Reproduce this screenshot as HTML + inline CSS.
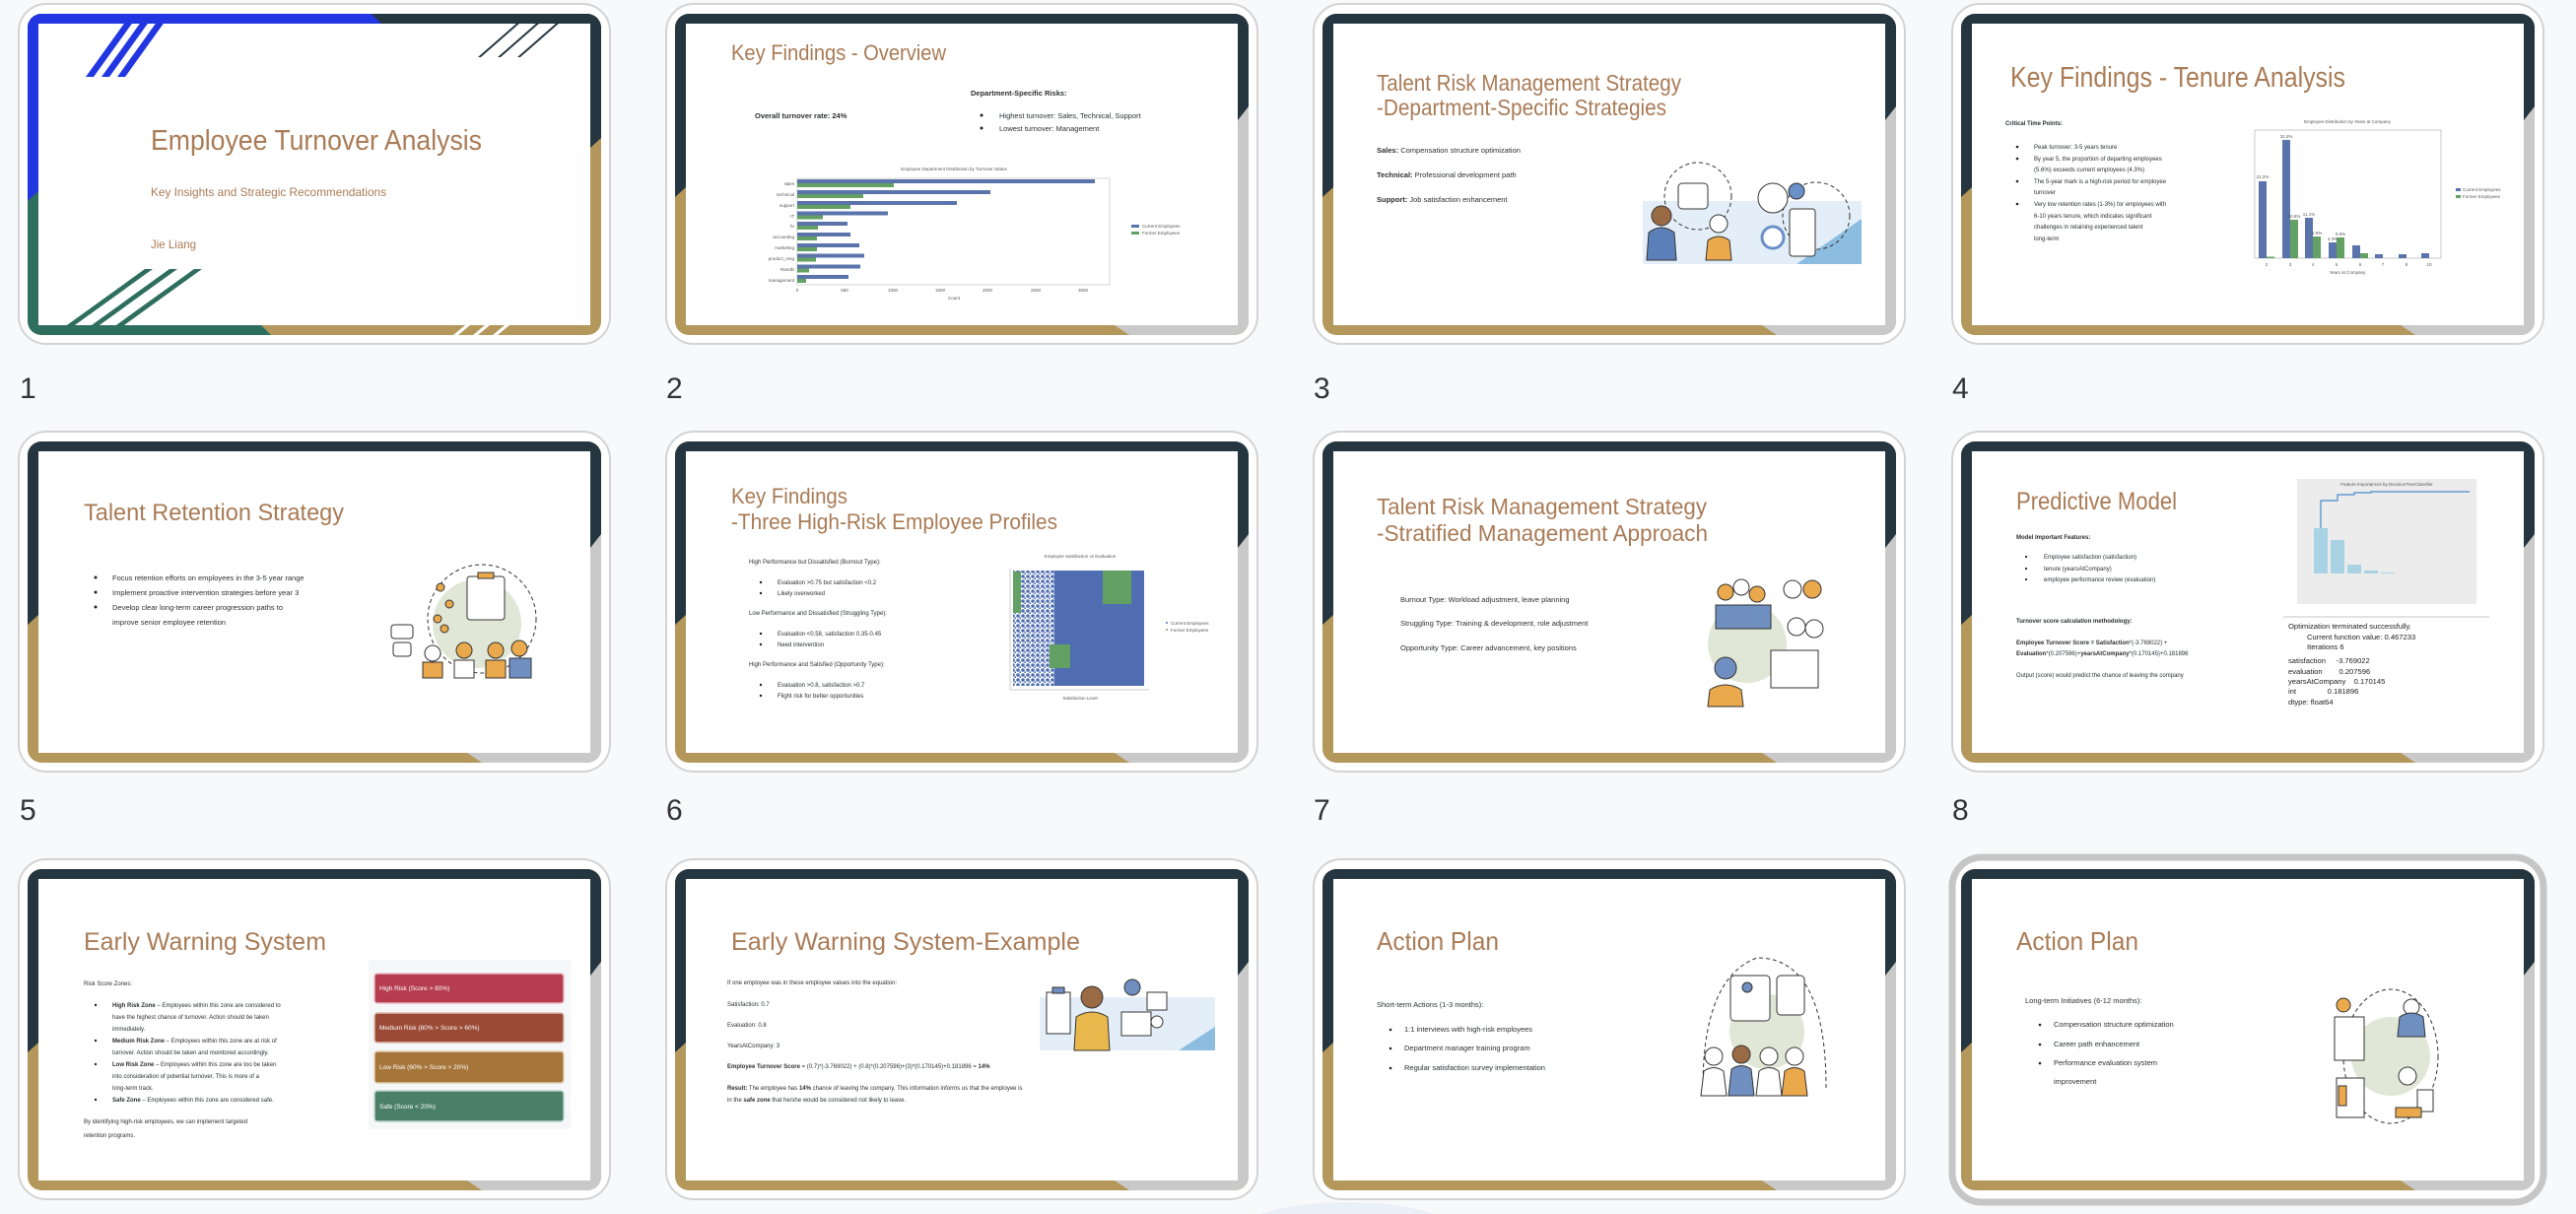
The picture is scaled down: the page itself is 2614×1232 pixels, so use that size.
<!DOCTYPE html>
<html><head><meta charset="utf-8"><style>
html,body{margin:0;padding:0;background:#f8f9fb;}
svg{display:block;}
text{font-family:"Liberation Sans",sans-serif;}
.t{fill:#a97b56;font-weight:300;}
.b{fill:#2b2f33;font-size:7.5px;}
.s{fill:#2b2f33;font-size:6px;}
.m{font-family:"Liberation Mono",monospace;fill:#222;font-size:7.6px;}
.n{fill:#333;font-size:30px;}
.ax{fill:#555;font-size:4.5px;}
</style></head><body>
<svg width="2614" height="1232" viewBox="0 0 2614 1232" xmlns="http://www.w3.org/2000/svg">
<defs>
<clipPath id="fc"><rect x="9" y="10" width="582" height="326" rx="14"/></clipPath>
<g id="frame">
 <rect x="0" y="0" width="600" height="345" rx="28" fill="#fff" stroke="#d3d3d3" stroke-width="2"/>
 <g clip-path="url(#fc)">
  <rect x="9" y="10" width="582" height="326" fill="#b4975a"/>
  <polygon points="580,118 591,104 591,336 470,336 455,326 580,326" fill="#c9c9c9"/>
  <polygon points="9,10 591,10 591,104 580,118 580,20 20,20 20,186 9,196" fill="#253640"/>
 </g>
 <rect x="20" y="20" width="560" height="306" fill="#fff"/>
</g>
<pattern id="dots" width="5" height="5" patternUnits="userSpaceOnUse"><rect width="5" height="5" fill="#fff"/><circle cx="2" cy="2" r="1.8" fill="#4f6db0"/><circle cx="4.5" cy="4.5" r="1.2" fill="#4f6db0"/></pattern>
</defs>
<ellipse cx="1367" cy="1250" rx="110" ry="30" fill="#eaf0f8"/>

<!-- Slide 1 -->
<g transform="translate(19,4)">
 <rect x="0" y="0" width="600" height="345" rx="28" fill="#fff" stroke="#d3d3d3" stroke-width="2"/>
 <g clip-path="url(#fc)">
  <rect x="9" y="10" width="582" height="326" fill="#b4975a"/>
  <polygon points="9,10 591,10 591,136 580,146 580,20 20,20 20,190 9,200" fill="#253640"/>
  <polygon points="9,10 358,10 368,20 20,20 20,190 9,200" fill="#2136e0"/>
  <polygon points="9,200 20,190 20,326 246,326 256,336 9,336" fill="#2e6e5e"/>
 </g>
 <rect x="20" y="20" width="560" height="306" fill="#fff"/>
 <g fill="#2136e0"><polygon points="68,74 76,74 122,10 114,10"/><polygon points="84,74 92,74 138,10 130,10"/><polygon points="100,74 108,74 154,10 146,10"/></g>
 <g fill="#253640"><polygon points="466,54 469,54 517,12 514,12"/><polygon points="486,54 489,54 537,12 534,12"/><polygon points="506,54 509,54 557,12 554,12"/></g>
 <g fill="#2e6e5e"><polygon points="35,336 43,336 136,269 128,269"/><polygon points="60,336 68,336 161,269 153,269"/><polygon points="85,336 93,336 186,269 178,269"/></g>
 <g fill="#fff"><polygon points="441,336 446,336 458,326 453,326"/><polygon points="461,336 466,336 478,326 473,326"/><polygon points="481,336 486,336 498,326 493,326"/></g>
 <text class="t" x="134" y="148" font-size="29" textLength="336" lengthAdjust="spacingAndGlyphs">Employee Turnover Analysis</text>
 <text class="t" x="134" y="195" font-size="12" textLength="239" lengthAdjust="spacingAndGlyphs">Key Insights and Strategic Recommendations</text>
 <text class="t" x="134" y="248" font-size="12" textLength="46" lengthAdjust="spacingAndGlyphs">Jie Liang</text>
</g>
<text class="n" x="20" y="404">1</text>

<!-- Slide 2 -->
<g transform="translate(676,4)">
 <use href="#frame"/>
 <text class="t" x="66" y="57" font-size="22" textLength="218" lengthAdjust="spacingAndGlyphs">Key Findings - Overview</text>
 <text class="b" x="309" y="93" font-size="6.5" font-weight="bold">Department-Specific Risks:</text>
 <text class="b" x="90" y="116" font-weight="bold">Overall turnover rate: 24%</text>
 <circle cx="320" cy="113" r="1.5" fill="#222"/><circle cx="320" cy="126" r="1.5" fill="#222"/>
 <text class="b" x="338" y="116" font-size="6.5">Highest turnover: Sales, Technical, Support</text>
 <text class="b" x="338" y="129" font-size="6.5">Lowest turnover: Management</text>
 <text class="ax" x="292" y="169" text-anchor="middle">Employee Department Distribution by Turnover Status</text>
 <rect x="133" y="177" width="317" height="108" fill="#fff" stroke="#ccc" stroke-width="0.8"/>
 <g fill="#5a74ab">
  <rect x="133" y="178" width="302" height="4"/><rect x="133" y="189" width="196" height="4"/><rect x="133" y="200" width="162" height="4"/><rect x="133" y="210.5" width="92" height="4"/><rect x="133" y="221" width="51" height="4"/><rect x="133" y="232" width="54" height="4"/><rect x="133" y="243" width="63" height="4"/><rect x="133" y="253.5" width="68" height="4"/><rect x="133" y="264.5" width="64" height="4"/><rect x="133" y="275" width="52" height="4"/>
 </g>
 <g fill="#62a063">
  <rect x="133" y="182" width="98" height="4"/><rect x="133" y="193" width="67" height="4"/><rect x="133" y="204" width="54" height="4"/><rect x="133" y="214.5" width="26" height="4"/><rect x="133" y="225" width="21" height="4"/><rect x="133" y="236" width="20" height="4"/><rect x="133" y="247" width="20" height="4"/><rect x="133" y="257.5" width="19" height="4"/><rect x="133" y="268.5" width="12" height="4"/><rect x="133" y="279" width="9" height="4"/>
 </g>
 <g class="ax" text-anchor="end">
  <text x="130" y="184">sales</text><text x="130" y="195">technical</text><text x="130" y="206">support</text><text x="130" y="217">IT</text><text x="130" y="227">hr</text><text x="130" y="238">accounting</text><text x="130" y="249">marketing</text><text x="130" y="260">product_mng</text><text x="130" y="271">RandD</text><text x="130" y="282">management</text>
 </g>
 <g class="ax" text-anchor="middle">
  <text x="133" y="292">0</text><text x="181" y="292">500</text><text x="230" y="292">1000</text><text x="278" y="292">1500</text><text x="326" y="292">2000</text><text x="375" y="292">2500</text><text x="423" y="292">3000</text><text x="292" y="300">Count</text>
 </g>
 <rect x="472" y="224" width="8" height="3" fill="#5a74ab"/><rect x="472" y="231" width="8" height="3" fill="#62a063"/>
 <text class="ax" x="483" y="227">Current Employees</text><text class="ax" x="483" y="234">Former Employees</text>
</g>
<text class="n" x="676" y="404">2</text>

<!-- Slide 3 -->
<g transform="translate(1333,4)">
 <use href="#frame"/>
 <text class="t" x="64" y="88" font-size="23" textLength="309" lengthAdjust="spacingAndGlyphs">Talent Risk Management Strategy</text>
 <text class="t" x="64" y="113" font-size="23" textLength="294" lengthAdjust="spacingAndGlyphs">-Department-Specific Strategies</text>
 <text class="b" x="64" y="151"><tspan font-weight="bold">Sales:</tspan> Compensation structure optimization</text>
 <text class="b" x="64" y="176"><tspan font-weight="bold">Technical:</tspan> Professional development path</text>
 <text class="b" x="64" y="201"><tspan font-weight="bold">Support:</tspan> Job satisfaction enhancement</text>
 <rect x="334" y="200" width="222" height="64" fill="#e3eef8"/>
 <polygon points="490,264 556,218 556,264" fill="#8cbde0"/>
 <circle cx="390" cy="195" r="34" fill="none" stroke="#333" stroke-dasharray="4 3"/>
 <circle cx="510" cy="215" r="34" fill="none" stroke="#333" stroke-dasharray="4 3"/>
 <rect x="370" y="182" width="30" height="26" rx="4" fill="#fff" stroke="#333"/>
 <circle cx="353" cy="215" r="10" fill="#9a6a45" stroke="#333"/>
 <path d="M338 260 L340 232 Q353 222 366 232 L368 260 Z" fill="#5b7fb8" stroke="#333"/>
 <circle cx="411" cy="223" r="9" fill="#fff" stroke="#333"/>
 <path d="M398 260 L400 240 Q411 232 422 240 L424 260 Z" fill="#e9a94c" stroke="#333"/>
 <circle cx="466" cy="197" r="15" fill="#fff" stroke="#333"/>
 <circle cx="490" cy="190" r="8" fill="#6a90c8" stroke="#333"/>
 <rect x="483" y="208" width="26" height="48" rx="3" fill="#fff" stroke="#333"/>
 <circle cx="466" cy="237" r="11" fill="#fff" stroke="#6a90c8" stroke-width="3"/>
</g>
<text class="n" x="1333" y="404">3</text>

<!-- Slide 4 -->
<g transform="translate(1981,4)">
 <use href="#frame"/>
 <text class="t" x="59" y="84" font-size="29" textLength="340" lengthAdjust="spacingAndGlyphs">Key Findings - Tenure Analysis</text>
 <text class="s" x="54" y="123" font-weight="bold">Critical Time Points:</text>
 <g fill="#222"><circle cx="66" cy="145" r="1.3"/><circle cx="66" cy="157" r="1.3"/><circle cx="66" cy="180" r="1.3"/><circle cx="66" cy="203" r="1.3"/></g>
 <g class="s" font-size="5.8">
  <text x="83" y="147">Peak turnover: 3-5 years tenure</text>
  <text x="83" y="159">By year 5, the proportion of departing employees</text>
  <text x="83" y="170">(5.6%) exceeds current employees (4.3%)</text>
  <text x="83" y="182">The 5-year mark is a high-risk period for employee</text>
  <text x="83" y="193">turnover</text>
  <text x="83" y="205">Very low retention rates (1-3%) for employees with</text>
  <text x="83" y="217">6-10 years tenure, which indicates significant</text>
  <text x="83" y="228">challenges in retaining experienced talent</text>
  <text x="83" y="240">long-term</text>
 </g>
 <text class="ax" x="401" y="121" text-anchor="middle" font-size="4">Employee Distribution by Years at Company</text>
 <rect x="307" y="128" width="189" height="130" fill="#fff" stroke="#bbb" stroke-width="0.8"/>
 <g fill="#5a74ab">
  <rect x="311" y="180" width="8" height="78"/><rect x="335" y="138" width="8" height="120"/><rect x="358" y="217" width="8" height="41"/><rect x="382" y="242" width="8" height="16"/><rect x="406" y="245" width="8" height="13"/><rect x="429" y="254" width="8" height="4"/><rect x="453" y="254" width="8" height="4"/><rect x="476" y="253" width="8" height="5"/>
 </g>
 <g fill="#62a063">
  <rect x="319" y="256.5" width="8" height="1.5"/><rect x="343" y="219" width="8" height="39"/><rect x="366" y="236" width="8" height="22"/><rect x="390" y="237" width="8" height="21"/><rect x="414" y="253" width="8" height="5"/>
 </g>
 <g class="ax" font-size="3.5" text-anchor="middle">
  <text x="315" y="177">21.2%</text><text x="339" y="136">32.4%</text><text x="362" y="215">11.1%</text><text x="347" y="217">10.6%</text><text x="370" y="234">5.9%</text><text x="394" y="235">5.6%</text><text x="386" y="240">4.3%</text>
  <text x="319" y="266">2</text><text x="343" y="266">3</text><text x="366" y="266">4</text><text x="390" y="266">5</text><text x="414" y="266">6</text><text x="437" y="266">7</text><text x="461" y="266">8</text><text x="484" y="266">10</text>
  <text x="401" y="274">Years at Company</text>
 </g>
 <rect x="511" y="187" width="5" height="3" fill="#5a74ab"/><rect x="511" y="194" width="5" height="3" fill="#62a063"/>
 <text class="ax" x="518" y="190" font-size="3.5">Current Employees</text><text class="ax" x="518" y="197" font-size="3.5">Former Employees</text>
</g>
<text class="n" x="1981" y="404">4</text>

<!-- Slide 5 -->
<g transform="translate(19,438)">
 <use href="#frame"/>
 <text class="t" x="66" y="90" font-size="24" textLength="264" lengthAdjust="spacingAndGlyphs">Talent Retention Strategy</text>
 <g fill="#222"><circle cx="78" cy="148" r="1.5"/><circle cx="78" cy="163" r="1.5"/><circle cx="78" cy="178" r="1.5"/></g>
 <g class="b" font-size="7">
  <text x="95" y="151">Focus retention efforts on employees in the 3-5 year range</text>
  <text x="95" y="166">Implement proactive intervention strategies before year 3</text>
  <text x="95" y="181">Develop clear long-term career progression paths to</text>
  <text x="95" y="196">improve senior employee retention</text>
 </g>
 <circle cx="465" cy="195" r="45" fill="#e1e7d6"/>
 <circle cx="470" cy="190" r="55" fill="none" stroke="#333" stroke-dasharray="4 3"/>
 <rect x="455" y="147" width="38" height="44" rx="3" fill="#fff" stroke="#333"/>
 <rect x="466" y="143" width="16" height="6" fill="#e9a94c" stroke="#333"/>
 <g fill="#e9a94c" stroke="#333"><circle cx="428" cy="158" r="4"/><circle cx="437" cy="175" r="4"/><circle cx="425" cy="190" r="4"/><circle cx="432" cy="200" r="4"/></g>
 <rect x="378" y="196" width="22" height="14" rx="3" fill="#fff" stroke="#333"/>
 <rect x="380" y="214" width="18" height="14" rx="3" fill="#fff" stroke="#333"/>
 <g stroke="#333"><circle cx="420" cy="225" r="8" fill="#fff"/><circle cx="452" cy="222" r="8" fill="#e9a94c"/><circle cx="484" cy="222" r="8" fill="#e9a94c"/><circle cx="508" cy="220" r="8" fill="#e9a94c"/>
 <rect x="410" y="234" width="20" height="16" fill="#e9a94c"/><rect x="442" y="232" width="20" height="18" fill="#fff"/><rect x="474" y="232" width="20" height="18" fill="#e9a94c"/><rect x="498" y="230" width="22" height="20" fill="#6f8fc0"/></g>
</g>
<text class="n" x="20" y="832">5</text>

<!-- Slide 6 -->
<g transform="translate(676,438)">
 <use href="#frame"/>
 <text class="t" x="66" y="73" font-size="22" textLength="118" lengthAdjust="spacingAndGlyphs">Key Findings</text>
 <text class="t" x="66" y="99" font-size="22" textLength="331" lengthAdjust="spacingAndGlyphs">-Three High-Risk Employee Profiles</text>
 <g class="s">
  <text x="84" y="134">High Performance but Dissatisfied (Burnout Type):</text>
  <text x="113" y="155">Evaluation &gt;0.75 but satisfaction &lt;0.2</text>
  <text x="113" y="166">Likely overworked</text>
  <text x="84" y="186">Low Performance and Dissatisfied (Struggling Type):</text>
  <text x="113" y="207">Evaluation &lt;0.58, satisfaction 0.35-0.45</text>
  <text x="113" y="218">Need intervention</text>
  <text x="84" y="238">High Performance and Satisfied (Opportunity Type):</text>
  <text x="113" y="259">Evaluation &gt;0.8, satisfaction &gt;0.7</text>
  <text x="113" y="270">Flight risk for better opportunities</text>
 </g>
 <g fill="#222"><circle cx="96" cy="153" r="1.2"/><circle cx="96" cy="164" r="1.2"/><circle cx="96" cy="205" r="1.2"/><circle cx="96" cy="216" r="1.2"/><circle cx="96" cy="257" r="1.2"/><circle cx="96" cy="268" r="1.2"/></g>
 <text class="ax" x="420" y="128" text-anchor="middle" font-size="3.8">Employee Satisfaction vs Evaluation</text>
 <line x1="349" y1="139" x2="349" y2="262" stroke="#999" stroke-width="0.5"/><line x1="349" y1="262" x2="490" y2="262" stroke="#999" stroke-width="0.5"/>
 <rect x="352" y="141" width="44" height="117" fill="url(#dots)"/>
 <rect x="394" y="141" width="91" height="117" fill="#4f6db0"/>
 <rect x="352" y="142" width="8" height="42" fill="#62a063"/>
 <rect x="443" y="141" width="29" height="34" fill="#62a063"/>
 <rect x="389" y="216" width="21" height="24" fill="#62a063"/>
 <text class="ax" x="420" y="272" text-anchor="middle" font-size="3.5">Satisfaction Level</text>
 <circle cx="508" cy="194" r="1" fill="#4f6db0"/><circle cx="508" cy="201" r="1" fill="#62a063"/>
 <text class="ax" x="512" y="196" font-size="3.5">Current Employees</text><text class="ax" x="512" y="203" font-size="3.5">Former Employees</text>
</g>
<text class="n" x="676" y="832">6</text>

<!-- Slide 7 -->
<g transform="translate(1333,438)">
 <use href="#frame"/>
 <text class="t" x="64" y="84" font-size="23" textLength="335" lengthAdjust="spacingAndGlyphs">Talent Risk Management Strategy</text>
 <text class="t" x="64" y="111" font-size="23" textLength="336" lengthAdjust="spacingAndGlyphs">-Stratified Management Approach</text>
 <g class="b" font-size="7.2">
  <text x="88" y="173">Burnout Type: Workload adjustment, leave planning</text>
  <text x="88" y="197">Struggling Type: Training &amp; development, role adjustment</text>
  <text x="88" y="222">Opportunity Type: Career advancement, key positions</text>
 </g>
 <circle cx="440" cy="215" r="40" fill="#e1e7d6"/>
 <g stroke="#333"><circle cx="418" cy="163" r="8" fill="#e9a94c"/><circle cx="434" cy="158" r="8" fill="#fff"/><circle cx="450" cy="165" r="8" fill="#e9a94c"/>
 <rect x="408" y="176" width="56" height="24" fill="#6f8fc0"/>
 <circle cx="486" cy="160" r="9" fill="#fff"/><circle cx="506" cy="160" r="9" fill="#e9a94c"/><circle cx="490" cy="198" r="9" fill="#fff"/><circle cx="508" cy="200" r="9" fill="#fff"/>
 <rect x="464" y="222" width="48" height="38" fill="#fff"/>
 <circle cx="418" cy="240" r="11" fill="#6f8fc0"/><path d="M400 279 L402 262 Q418 252 434 262 L436 279 Z" fill="#e9a94c"/></g>
</g>
<text class="n" x="1333" y="832">7</text>

<!-- Slide 8 -->
<g transform="translate(1981,438)">
 <use href="#frame"/>
 <text class="t" x="65" y="79" font-size="25" textLength="163" lengthAdjust="spacingAndGlyphs">Predictive Model</text>
 <text class="s" x="65" y="109" font-size="5.8" font-weight="bold">Model Important Features:</text>
 <g fill="#222"><circle cx="75" cy="127" r="1.1"/><circle cx="75" cy="139" r="1.1"/><circle cx="75" cy="150" r="1.1"/></g>
 <g class="s" font-size="5.3">
  <text x="93" y="129">Employee satisfaction (satisfaction)</text>
  <text x="93" y="141">tenure (yearsAtCompany)</text>
  <text x="93" y="152">employee performance review (evaluation)</text>
 </g>
 <text class="s" x="65" y="194" font-size="5.8" font-weight="bold">Turnover score calculation methodology:</text>
 <text class="s" x="65" y="216" font-size="5.2"><tspan font-weight="bold">Employee Turnover Score = Satisfaction</tspan>*(-3.769022) +</text>
 <text class="s" x="65" y="227" font-size="5.2"><tspan font-weight="bold">Evaluation</tspan>*(0.207596)+<tspan font-weight="bold">yearsAtCompany</tspan>*(0.170145)+0.181896</text>
 <text class="s" x="65" y="249" font-size="5.2">Output (score) would predict the chance of leaving the company</text>
 <rect x="350" y="48" width="182" height="127" fill="#ececec"/>
 <text class="ax" x="441" y="55" text-anchor="middle" font-size="3.5">Feature Importances by DecisionTreeClassifier</text>
 <g fill="#a9d3e4"><rect x="367" y="98" width="14" height="46"/><rect x="384" y="110" width="14" height="34"/><rect x="401" y="135" width="14" height="9"/><rect x="418" y="141" width="14" height="3"/><rect x="435" y="143" width="14" height="1"/></g>
 <polyline points="374,98 374,70 391,70 391,64 408,64 408,62 425,62 425,61 525,61" fill="none" stroke="#4a8cc8" stroke-width="1.2"/>
 <line x1="336" y1="188" x2="545" y2="188" stroke="#e2e2e2" stroke-width="2"/>
 <g class="m">
  <text x="341" y="200">Optimization terminated successfully.</text>
  <text x="341" y="211" xml:space="preserve">         Current function value: 0.467233</text>
  <text x="341" y="221" xml:space="preserve">         Iterations 6</text>
  <text x="341" y="235" xml:space="preserve">satisfaction     -3.769022</text>
  <text x="341" y="246" xml:space="preserve">evaluation        0.207596</text>
  <text x="341" y="256" xml:space="preserve">yearsAtCompany    0.170145</text>
  <text x="341" y="266" xml:space="preserve">int               0.181896</text>
  <text x="341" y="277">dtype: float64</text>
 </g>
</g>
<text class="n" x="1981" y="832">8</text>

<!-- Slide 9 -->
<g transform="translate(19,872)">
 <use href="#frame"/>
 <text class="t" x="66" y="92" font-size="25" textLength="246" lengthAdjust="spacingAndGlyphs">Early Warning System</text>
 <text class="s" x="66" y="128">Risk Score Zones:</text>
 <g fill="#222"><circle cx="78" cy="148" r="1.2"/><circle cx="78" cy="184" r="1.2"/><circle cx="78" cy="208" r="1.2"/><circle cx="78" cy="244" r="1.2"/></g>
 <g class="s" font-size="5.8">
  <text x="95" y="150"><tspan font-weight="bold">High Risk Zone</tspan> – Employees within this zone are considered to</text>
  <text x="95" y="162">have the highest chance of turnover. Action should be taken</text>
  <text x="95" y="174">immediately.</text>
  <text x="95" y="186"><tspan font-weight="bold">Medium Risk Zone</tspan> – Employees within this zone are at risk of</text>
  <text x="95" y="198">turnover. Action should be taken and monitored accordingly.</text>
  <text x="95" y="210"><tspan font-weight="bold">Low Risk Zone</tspan> – Employees within this zone are too be taken</text>
  <text x="95" y="222">into consideration of potential turnover. This is more of a</text>
  <text x="95" y="234">long-term track.</text>
  <text x="95" y="246"><tspan font-weight="bold">Safe Zone</tspan> – Employees within this zone are considered safe.</text>
  <text x="66" y="268">By identifying high-risk employees, we can implement targeted</text>
  <text x="66" y="282">retention programs.</text>
 </g>
 <rect x="355" y="102" width="205" height="172" fill="#f6f7f9"/>
 <rect x="361" y="116" width="192" height="30" rx="3" fill="#b53d4f" stroke="#e8b7bd" stroke-width="1.5"/>
 <rect x="361" y="156" width="192" height="30" rx="3" fill="#9a4a35" stroke="#dcbcb0" stroke-width="1.5"/>
 <rect x="361" y="195" width="192" height="32" rx="3" fill="#a5753a" stroke="#e3d0b0" stroke-width="1.5"/>
 <rect x="361" y="235" width="192" height="31" rx="3" fill="#4a8068" stroke="#b9d3c8" stroke-width="1.5"/>
 <g fill="#fff" font-size="6.5">
  <text x="366" y="133">High Risk (Score &gt; 80%)</text>
  <text x="366" y="173">Medium Risk (80% &gt; Score &gt; 60%)</text>
  <text x="366" y="213">Low Risk (60% &gt; Score &gt; 20%)</text>
  <text x="366" y="253">Safe (Score &lt; 20%)</text>
 </g>
</g>

<!-- Slide 10 -->
<g transform="translate(676,872)">
 <use href="#frame"/>
 <text class="t" x="66" y="92" font-size="25" textLength="354" lengthAdjust="spacingAndGlyphs">Early Warning System-Example</text>
 <g class="s" font-size="5.4">
  <text x="62" y="127">If one employee was in these employee values into the equation:</text>
  <text x="62" y="149">Satisfaction: 0.7</text>
  <text x="62" y="170">Evaluation: 0.8</text>
  <text x="62" y="191">YearsAtCompany: 3</text>
  <text x="62" y="212"><tspan font-weight="bold">Employee Turnover Score</tspan> = (0.7)*(-3.769022) + (0.8)*(0.207596)+(3)*(0.170145)+0.181896 = <tspan font-weight="bold">14%</tspan></text>
  <text x="62" y="234"><tspan font-weight="bold">Result:</tspan> The employee has <tspan font-weight="bold">14%</tspan> chance of leaving the company. This information informs us that the employee is</text>
  <text x="62" y="246">in the <tspan font-weight="bold">safe zone</tspan> that he/she would be considered not likely to leave.</text>
 </g>
 <rect x="379" y="140" width="178" height="54" fill="#e3eef8"/>
 <polygon points="520,194 557,170 557,194" fill="#8cbde0"/>
 <g stroke="#333"><rect x="386" y="135" width="24" height="42" fill="#fff"/><rect x="392" y="130" width="12" height="6" fill="#6f8fc0"/>
 <circle cx="432" cy="140" r="11" fill="#9a6a45"/><path d="M414 194 L416 160 Q432 150 448 160 L450 194 Z" fill="#e9b84c"/>
 <circle cx="473" cy="130" r="8" fill="#6f8fc0"/><rect x="462" y="155" width="30" height="24" fill="#fff"/><rect x="488" y="135" width="20" height="18" fill="#fff"/>
 <circle cx="498" cy="165" r="6" fill="#fff"/></g>
</g>

<!-- Slide 11 -->
<g transform="translate(1333,872)">
 <use href="#frame"/>
 <text class="t" x="64" y="92" font-size="26" textLength="124" lengthAdjust="spacingAndGlyphs">Action Plan</text>
 <text class="b" x="64" y="150" font-size="7">Short-term Actions (1-3 months):</text>
 <g fill="#222"><circle cx="78" cy="173" r="1.3"/><circle cx="78" cy="192" r="1.3"/><circle cx="78" cy="212" r="1.3"/></g>
 <g class="b" font-size="7">
  <text x="92" y="175">1:1 interviews with high-risk employees</text>
  <text x="92" y="194">Department manager training program</text>
  <text x="92" y="214">Regular satisfaction survey implementation</text>
 </g>
 <circle cx="460" cy="175" r="38" fill="#e1e7d6"/>
 <path d="M395 232 Q395 120 450 100 Q520 100 520 232" fill="none" stroke="#333" stroke-dasharray="4 3"/>
 <g stroke="#333"><rect x="423" y="118" width="40" height="46" rx="4" fill="#fff"/><rect x="470" y="118" width="28" height="40" rx="4" fill="#fff"/>
 <circle cx="440" cy="130" r="5" fill="#6f8fc0"/>
 <circle cx="406" cy="200" r="9" fill="#fff"/><circle cx="434" cy="198" r="9" fill="#9a6a45"/><circle cx="462" cy="200" r="9" fill="#fff"/><circle cx="488" cy="200" r="9" fill="#fff"/>
 <path d="M393 240 L396 215 Q406 208 416 215 L419 240 Z" fill="#fff"/><path d="M421 240 L424 213 Q434 206 444 213 L447 240 Z" fill="#6f8fc0"/><path d="M449 240 L452 215 Q462 208 472 215 L475 240 Z" fill="#fff"/><path d="M475 240 L478 215 Q488 208 498 215 L501 240 Z" fill="#e9a94c"/></g>
</g>

<!-- Slide 12 -->
<g transform="translate(1981,872)">
 <rect x="0" y="-2" width="600" height="350" rx="30" fill="#fff" stroke="#c6c6c6" stroke-width="7"/>
 <g clip-path="url(#fc)">
  <rect x="9" y="10" width="582" height="326" fill="#b4975a"/>
  <polygon points="580,118 591,104 591,336 470,336 455,326 580,326" fill="#c9c9c9"/>
  <polygon points="9,10 591,10 591,104 580,118 580,20 20,20 20,186 9,196" fill="#253640"/>
 </g>
 <rect x="20" y="20" width="560" height="306" fill="#fff"/>
 <text class="t" x="65" y="92" font-size="26" textLength="124" lengthAdjust="spacingAndGlyphs">Action Plan</text>
 <text class="b" x="74" y="146" font-size="7">Long-term Initiatives (6-12 months):</text>
 <g fill="#222"><circle cx="89" cy="168" r="1.3"/><circle cx="89" cy="188" r="1.3"/><circle cx="89" cy="207" r="1.3"/></g>
 <g class="b" font-size="7">
  <text x="103" y="170">Compensation structure optimization</text>
  <text x="103" y="190">Career path enhancement</text>
  <text x="103" y="209">Performance evaluation system</text>
  <text x="103" y="228">improvement</text>
 </g>
 <circle cx="445" cy="200" r="40" fill="#e1e7d6"/>
 <ellipse cx="445" cy="200" rx="48" ry="68" fill="none" stroke="#333" stroke-dasharray="4 3"/>
 <g stroke="#333"><rect x="388" y="160" width="30" height="44" fill="#fff"/><circle cx="397" cy="148" r="7" fill="#e9a94c"/><circle cx="466" cy="150" r="8" fill="#fff"/><path d="M452 180 L454 160 Q466 152 478 160 L480 180 Z" fill="#6f8fc0"/>
 <rect x="390" y="222" width="28" height="40" fill="#fff"/><rect x="392" y="230" width="8" height="20" fill="#e9a94c"/>
 <circle cx="462" cy="220" r="9" fill="#fff"/><rect x="472" y="234" width="16" height="22" fill="#fff"/><rect x="450" y="252" width="26" height="10" fill="#e9a94c"/></g>
</g>
</svg>
</body></html>
